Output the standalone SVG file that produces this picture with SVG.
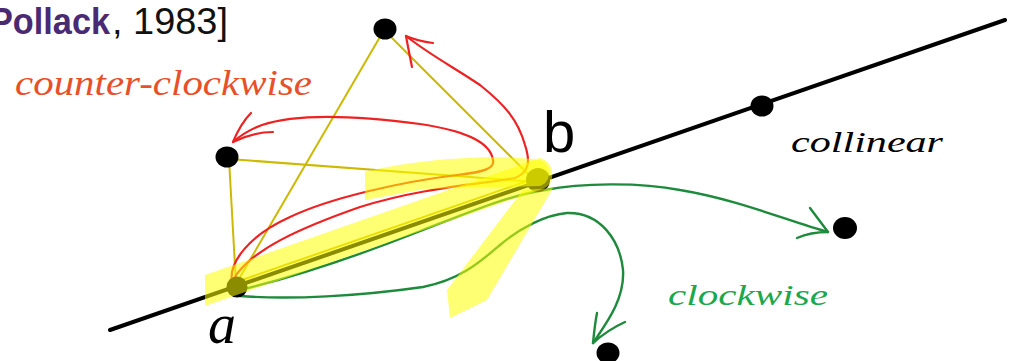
<svg xmlns="http://www.w3.org/2000/svg" width="1015" height="361" viewBox="0 0 1015 361">
<style>
.dot{fill:#000}
.tri{stroke:#cdb900;stroke-width:2;fill:none}
.red{stroke:#ee2222;stroke-width:2.2;fill:none;stroke-linecap:round;stroke-linejoin:round}
.grn{stroke:#1e8a3c;stroke-width:2.4;fill:none;stroke-linecap:round;stroke-linejoin:round}
.hl{fill:#ffff00;opacity:0.55}
.hand{font-family:"Liberation Serif",serif;font-style:italic}
</style>
<rect width="1015" height="361" fill="#fff"/>
<g id="citation">
<text x="-10" y="34" font-family="Liberation Sans,Arial,sans-serif" font-size="36" font-weight="bold" fill="#4a2a72" textLength="120" lengthAdjust="spacingAndGlyphs">Pollack</text>
<text x="112" y="34" font-family="Liberation Sans,Arial,sans-serif" font-size="36" fill="#111" textLength="116" lengthAdjust="spacingAndGlyphs">, 1983]</text>
</g>
<g id="line">
<line x1="110" y1="330" x2="1005" y2="20" stroke="#000" stroke-width="4" stroke-linecap="round"/>
</g>
<g id="connectors">
<line class="tri" x1="229" y1="159" x2="236" y2="284"/>
<line class="tri" x1="229" y1="159" x2="536" y2="182"/>
<line class="tri" x1="384" y1="30" x2="236" y2="284"/>
<line class="tri" x1="384" y1="30" x2="536" y2="182"/>
<line class="tri" x1="236" y1="282" x2="536" y2="178"/>
<path class="red" d="M232,283 C228,262 250,235 290,217 C330,198 400,182 457,175 C485,172 495,168 493,160 C490,140 460,130 420,124 C360,116 300,112 262,125 C248,130 240,136 233,142"/>
<path class="red" d="M233,142 C238,130 244,120 251,113 M233,142 C245,136 260,132 273,132"/>
<path class="red" d="M233,280 C250,250 300,228 360,207 C420,188 480,184 515,178 C530,172 530,160 525,145 C518,120 505,105 480,85 C455,68 430,55 406,36"/>
<path class="red" d="M406,36 C408,47 410,57 412,67 M406,36 C415,40 424,42 433,43"/>
<path class="grn" d="M240,290 C290,278 360,255 423,230 C470,212 510,195 545,190 C580,183 640,182 680,190 C740,200 790,222 828,232"/>
<path class="grn" d="M828,232 C822,224 816,216 810,208 M828,232 C817,232 806,234 797,238"/>
<path class="grn" d="M240,296 C290,300 360,296 423,287 C460,280 480,262 500,245 C520,228 545,215 567,213 C600,212 620,240 623,270 C625,300 605,325 593,343"/>
<path class="grn" d="M593,343 C594,333 595,323 597,313 M593,343 C603,334 614,327 625,322"/>
</g>
<g id="node-top"><ellipse class="dot" cx="385" cy="29" rx="11.5" ry="10.5"/></g>
<g id="node-left"><ellipse class="dot" cx="227" cy="157" rx="11.5" ry="10.5"/></g>
<g id="node-collinear"><ellipse class="dot" cx="762" cy="106" rx="11.5" ry="10.5"/></g>
<g id="node-right"><ellipse class="dot" cx="845" cy="228" rx="12" ry="11"/></g>
<g id="node-bottom"><ellipse class="dot" cx="608" cy="353" rx="11.5" ry="10.5"/></g>
<g id="node-a"><circle class="dot" cx="237" cy="287" r="10.5"/></g>
<g id="node-b"><circle class="dot" cx="538" cy="180" r="12"/></g>
<g id="highlight">
<path class="hl" d="M205,275 L540,158 C556,162 556,186 542,189 L205,306 Z"/>
<path class="hl" d="M365,172 C420,158 500,154 540,160 C552,164 552,182 540,186 L425,189 L365,200 Z"/>
<path class="hl" d="M523,190 L553,188 L487,300 L450,318 L447,290 Z"/>
</g>
<g id="labels">
<text class="hand" x="15" y="95" font-size="36" fill="#e8502a" textLength="297" lengthAdjust="spacingAndGlyphs">counter-clockwise</text>
<text class="hand" x="791" y="152" font-size="30" fill="#000" textLength="152" lengthAdjust="spacingAndGlyphs">collinear</text>
<text class="hand" x="668" y="305" font-size="30" fill="#1ca84c" textLength="160" lengthAdjust="spacingAndGlyphs">clockwise</text>
<text x="543" y="152" font-family="Liberation Sans,Arial,sans-serif" font-size="58" fill="#000">b</text>
<text class="hand" x="208" y="343" font-size="56" fill="#000">a</text>
</g>
</svg>
